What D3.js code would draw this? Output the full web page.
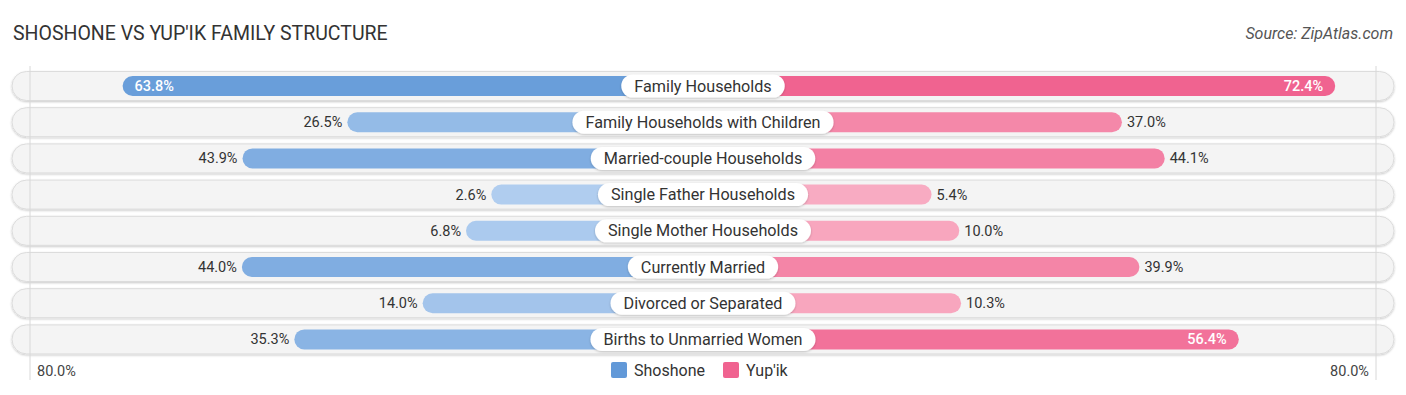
<!DOCTYPE html>
<html>
<head>
<meta charset="utf-8">
<script src="https://cdn.jsdelivr.net/npm/d3@7"></script>
<style>
  body { margin: 0; background: #fff; font-family: Roboto, "Open Sans", sans-serif; }
  svg text { font-family: Roboto, sans-serif; }
</style>
</head>
<body>
<div id="chart"></div>
<script>
const categories = [
  'Family Households',
  'Family Households with Children',
  'Married-couple Households',
  'Single Father Households',
  'Single Mother Households',
  'Currently Married',
  'Divorced or Separated',
  'Births to Unmarried Women'
];
const shoshone = [63.8, 26.5, 43.9, 2.6, 6.8, 44.0, 14.0, 35.3];
const yupik = [72.4, 37.0, 44.1, 5.4, 10.0, 39.9, 10.3, 56.4];
const seriesNames = ['Shoshone', "Yup'ik"];
const axisMax = 80;

const width = 1406, height = 395;
const cx = 703;          // centre line
const labelGap = 196;    // bars start under the centre label
const barSpan = 482;     // length of 80% beyond the gap
const rowTop = 86, rowStep = 36.2;

const svg = d3.select('#chart').append('svg')
  .attr('width', width)
  .attr('height', height);

const defs = svg.append('defs');
const shadow = defs.append('filter').attr('id', 'sh').attr('x', '-20%').attr('y', '-40%').attr('width', '140%').attr('height', '180%');
shadow.append('feDropShadow').attr('dx', 0).attr('dy', 1).attr('stdDeviation', 1.2).attr('flood-color', '#000').attr('flood-opacity', 0.22);

const x = d3.scaleLinear().domain([0, axisMax]).range([0, barSpan]);
const y = i => rowTop + i * rowStep;

const blue = d3.scaleLinear().domain([0, 70]).range(['#b3cff0', '#6299d8']).clamp(true);
const pink = d3.scaleLinear().domain([0, 70]).range(['#f9b1c6', '#f06390']).clamp(true);

// title + source
svg.append('text')
  .attr('x', 13).attr('y', 40)
  .attr('font-size', 19.5).attr('fill', '#333')
  .text("SHOSHONE VS YUP'IK FAMILY STRUCTURE");
svg.append('text')
  .attr('x', 1393).attr('y', 39)
  .attr('text-anchor', 'end')
  .attr('font-size', 16).attr('font-style', 'italic').attr('fill', '#555')
  .text('Source: ZipAtlas.com');

// row backgrounds
svg.selectAll('.bg')
  .data(categories)
  .enter().append('rect')
  .attr('class', 'bg')
  .attr('x', 12).attr('y', (d, i) => y(i) - 14.5)
  .attr('width', 1382).attr('height', 29)
  .attr('rx', 14.5)
  .attr('fill', '#f4f4f4')
  .attr('stroke', '#dcdcdc')
  .attr('stroke-width', 1)
  .attr('filter', 'url(#sh)');

// faint frame lines
const frameInset = 673;
[cx - frameInset, cx + frameInset].forEach(gx => {
  svg.append('line')
    .attr('x1', gx).attr('x2', gx)
    .attr('y1', 66).attr('y2', 380)
    .attr('stroke', '#d8d8d8').attr('stroke-width', 1);
});

const inside = 50;
const rows = svg.selectAll('.row')
  .data(categories)
  .enter().append('g')
  .attr('class', 'row');

// left bars
rows.append('rect')
  .attr('x', (d, i) => cx - labelGap - x(shoshone[i]))
  .attr('y', (d, i) => y(i) - 10)
  .attr('width', (d, i) => labelGap + x(shoshone[i]))
  .attr('height', 20)
  .attr('rx', 10)
  .attr('fill', (d, i) => blue(shoshone[i]));

// right bars
rows.append('rect')
  .attr('x', cx)
  .attr('y', (d, i) => y(i) - 10)
  .attr('width', (d, i) => labelGap + x(yupik[i]))
  .attr('height', 20)
  .attr('rx', 10)
  .attr('fill', (d, i) => pink(yupik[i]));

// value labels
rows.append('text')
  .attr('x', (d, i) => {
    const end = cx - labelGap - x(shoshone[i]);
    return shoshone[i] > inside ? end + 12 : end - 5;
  })
  .attr('y', (d, i) => y(i) + 5)
  .attr('text-anchor', (d, i) => shoshone[i] > inside ? 'start' : 'end')
  .attr('font-size', 14.5)
  .attr('font-weight', (d, i) => shoshone[i] > inside ? 500 : 400)
  .attr('fill', (d, i) => shoshone[i] > inside ? '#fff' : '#333')
  .text((d, i) => shoshone[i].toFixed(1) + '%');

rows.append('text')
  .attr('x', (d, i) => {
    const end = cx + labelGap + x(yupik[i]);
    return yupik[i] > inside ? end - 12 : end + 5;
  })
  .attr('y', (d, i) => y(i) + 5)
  .attr('text-anchor', (d, i) => yupik[i] > inside ? 'end' : 'start')
  .attr('font-size', 14.5)
  .attr('font-weight', (d, i) => yupik[i] > inside ? 500 : 400)
  .attr('fill', (d, i) => yupik[i] > inside ? '#fff' : '#333')
  .text((d, i) => yupik[i].toFixed(1) + '%');

// centre labels
rows.each(function (d, i) {
  const g = d3.select(this);
  const pill = g.append('rect');
  const t = g.append('text')
    .attr('x', cx).attr('y', y(i) + 5.5)
    .attr('text-anchor', 'middle')
    .attr('font-size', 16.2).attr('fill', '#333')
    .text(d);
  const w = t.node().getComputedTextLength() + 26;
  pill.attr('x', cx - w / 2).attr('y', y(i) - 11.5)
    .attr('width', w).attr('height', 23)
    .attr('rx', 11.5)
    .attr('fill', '#fff')
    .attr('filter', 'url(#sh)');
});

// axis labels
svg.append('text')
  .attr('x', 37).attr('y', 376)
  .attr('font-size', 14.5).attr('fill', '#444')
  .text(axisMax.toFixed(1) + '%');
svg.append('text')
  .attr('x', 1369).attr('y', 376)
  .attr('text-anchor', 'end')
  .attr('font-size', 14.5).attr('fill', '#444')
  .text(axisMax.toFixed(1) + '%');

// legend
const legend = svg.append('g');
const legendX = [611, 723];
const legendColors = ['#6299d8', '#f06390'];
seriesNames.forEach((name, i) => {
  legend.append('rect')
    .attr('x', legendX[i]).attr('y', 362)
    .attr('width', 16).attr('height', 16).attr('rx', 2)
    .attr('fill', legendColors[i]);
  legend.append('text')
    .attr('x', legendX[i] + 23).attr('y', 376)
    .attr('font-size', 16).attr('fill', '#333')
    .text(name);
});
</script>
</body>
</html>
